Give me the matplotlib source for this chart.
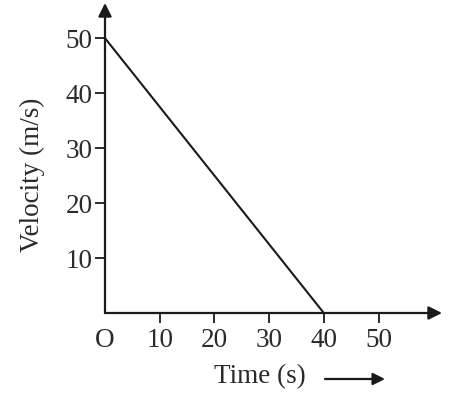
import matplotlib.pyplot as plt

# Données du graphique
time_s = [0, 40]
velocity_ms = [50, 0]
x_ticks = [0, 10, 20, 30, 40, 50]
x_labels = ['O', '10', '20', '30', '40', '50']
y_ticks = [10, 20, 30, 40, 50]
y_labels = ['10', '20', '30', '40', '50']

plt.rcParams['font.family'] = ['Liberation Serif', 'DejaVu Serif']

fig = plt.figure(figsize=(4.5, 3.93), dpi=100)
ax = fig.add_axes([105 / 450, 80 / 393, 337 / 450, 310 / 393])
ax.set_xlim(0, 61.6)
ax.set_ylim(0, 56.4)

# Courbe vitesse-temps
ax.plot(time_s, velocity_ms, color='#1a1a1a', lw=1.5, solid_capstyle='round')

# Axes avec flèches
for s in ax.spines.values():
    s.set_visible(False)
ax.annotate('', xy=(1, 0), xytext=(0, 0), xycoords='axes fraction',
            arrowprops=dict(arrowstyle='-|>', color='#1a1a1a', lw=1.6,
                            mutation_scale=20, shrinkA=0, shrinkB=0))
ax.annotate('', xy=(0, 1), xytext=(0, 0), xycoords='axes fraction',
            arrowprops=dict(arrowstyle='-|>', color='#1a1a1a', lw=1.6,
                            mutation_scale=20, shrinkA=0, shrinkB=0))

ax.set_xticks(x_ticks, x_labels)
ax.set_yticks(y_ticks, y_labels)
ax.tick_params(axis='both', length=7, width=1.3, color='#1a1a1a',
               labelsize=19.5, labelcolor='#2a2a2a', pad=2)
ax.tick_params(axis='x', pad=4)
ax.xaxis.get_major_ticks()[0].tick1line.set_visible(False)

# Titre de l'axe des vitesses
fig.text(32 / 450, 1 - 175 / 393, 'Velocity (m/s)', fontsize=19.5, color='#2a2a2a',
         rotation=90, ha='center', va='center')

# Légende de l'axe des temps avec flèche
fig.text(260 / 450, 1 - 377 / 393, 'Time (s)', fontsize=19.5, color='#2a2a2a',
         ha='center', va='center')
ax_arrow = fig.add_axes([0, 0, 1, 1], facecolor='none')
ax_arrow.set_axis_off()
ax_arrow.annotate('', xy=(385 / 450, 1 - 379 / 393), xytext=(325 / 450, 1 - 379 / 393),
                  xycoords='axes fraction',
                  arrowprops=dict(arrowstyle='-|>', color='#1a1a1a', lw=1.6,
                                  mutation_scale=18, shrinkA=0, shrinkB=0))

fig.savefig('out.png', dpi=100)
plt.close()
